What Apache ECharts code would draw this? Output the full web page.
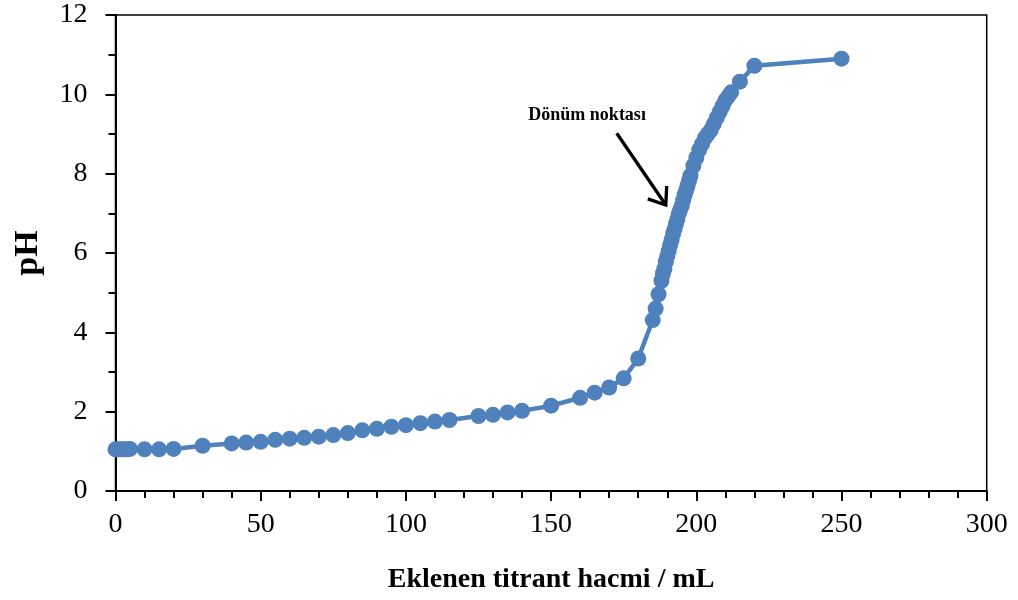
<!DOCTYPE html>
<html>
<head>
<meta charset="utf-8">
<script src="https://cdn.jsdelivr.net/npm/echarts@6/dist/echarts.min.js"></script>
<style>
  html, body { margin: 0; padding: 0; background: #fff; }
  #chart { width: 1018px; height: 600px; }
</style>
</head>
<body>
<div id="chart"></div>
<script>
// titrant hacmi (mL) ve pH
var volume = [0, 1, 2, 3, 4, 5, 10, 15, 20, 30, 40, 45, 50, 55, 60, 65, 70, 75, 80, 85,
  90, 95, 100, 105, 110, 115, 125, 130, 135, 140, 150, 160, 165, 170, 175, 180,
  185, 186, 187, 188, 188.5, 189, 189.5, 190, 190.5, 191, 191.5, 192, 192.5, 193, 193.5,
  194, 194.5, 195, 195.5, 196, 196.5, 197, 197.5, 198, 199, 200,
  201, 202, 203, 204, 205, 206, 207, 208, 209, 210, 211, 212, 215, 220, 250];
var ph = [1.05, 1.05, 1.05, 1.05, 1.05, 1.06, 1.05, 1.05, 1.06, 1.14, 1.2, 1.22, 1.24, 1.29, 1.32, 1.34, 1.37, 1.41, 1.46, 1.53,
  1.57, 1.62, 1.66, 1.71, 1.75, 1.79, 1.89, 1.92, 1.98, 2.02, 2.15, 2.35, 2.48, 2.61, 2.84, 3.34,
  4.31, 4.6, 4.96, 5.3, 5.48, 5.6, 5.78, 5.92, 6.05, 6.2, 6.33, 6.48, 6.6, 6.74, 6.86,
  7.0, 7.1, 7.2, 7.34, 7.47, 7.58, 7.7, 7.83, 7.95, 8.2, 8.4,
  8.6, 8.75, 8.9, 9.0, 9.1, 9.25, 9.4, 9.55, 9.7, 9.85, 9.95, 10.05, 10.32, 10.72, 10.9];

// annotation (data coordinates)
var noteText = "Dönüm noktası";
var notePos = [162.4, 9.48];
var arrowFrom = [172.6, 9.02];
var arrowTo = [189.5, 7.21];

var font = "'Liberation Serif', 'Times New Roman', serif";

var chart = echarts.init(document.getElementById("chart"));

var option = {
  animation: false,
  grid: {
    left: 115.5,
    right: 31.3,
    top: 15,
    bottom: 109,
    show: true,
    borderColor: "#000",
    borderWidth: 1.5,
    containLabel: false
  },
  xAxis: {
    type: "value",
    min: 0,
    max: 300,
    interval: 50,
    name: "Eklenen titrant hacmi / mL",
    nameLocation: "middle",
    nameGap: 75,
    nameTextStyle: { fontFamily: font, fontWeight: "bold", fontSize: 28, color: "#000" },
    axisLine: { show: true, onZero: false, lineStyle: { color: "#000", width: 2 } },
    axisTick: { show: true, length: 10, lineStyle: { color: "#000", width: 2 } },
    minorTick: { show: true, splitNumber: 5, length: 7, lineStyle: { color: "#000", width: 2 } },
    axisLabel: { fontFamily: font, fontSize: 28, color: "#000", margin: 20 },
    splitLine: { show: false }
  },
  yAxis: {
    type: "value",
    min: 0,
    max: 12,
    interval: 2,
    name: "pH",
    nameLocation: "middle",
    nameGap: 70,
    nameRotate: 90,
    nameTextStyle: { fontFamily: font, fontWeight: "bold", fontSize: 34, color: "#000" },
    axisLine: { show: true, onZero: false, lineStyle: { color: "#000", width: 2 } },
    axisTick: { show: true, length: 10, lineStyle: { color: "#000", width: 2 } },
    minorTick: { show: true, splitNumber: 2, length: 7, lineStyle: { color: "#000", width: 2 } },
    axisLabel: { fontFamily: font, fontSize: 28, color: "#000", margin: 28 },
    splitLine: { show: false }
  },
  series: [
    {
      type: "line",
      data: volume.map(function (v, i) { return [v, ph[i]]; }),
      symbol: "circle",
      symbolSize: 16,
      showSymbol: true,
      lineStyle: { color: "#4F81BD", width: 4.5 },
      itemStyle: { color: "#4F81BD" }
    }
  ]
};

chart.setOption(option);

// arrow + text placed from data coords
function drawNote() {
  var t = chart.convertToPixel({ gridIndex: 0 }, notePos);
  var a = chart.convertToPixel({ gridIndex: 0 }, arrowFrom);
  var b = chart.convertToPixel({ gridIndex: 0 }, arrowTo);
  var ang = Math.atan2(b[1] - a[1], b[0] - a[0]);
  var len = 19, spread = 37 * Math.PI / 180;
  var w1 = [b[0] - len * Math.cos(ang - spread), b[1] - len * Math.sin(ang - spread)];
  var w2 = [b[0] - len * Math.cos(ang + spread), b[1] - len * Math.sin(ang + spread)];
  chart.setOption({
    graphic: [
      {
        type: "text",
        x: t[0],
        y: t[1],
        style: {
          text: noteText,
          font: "bold 18px " + font,
          fill: "#000",
          align: "center",
          verticalAlign: "middle"
        }
      },
      {
        type: "polyline",
        shape: { points: [a, b] },
        style: { stroke: "#000", lineWidth: 3.3, fill: null }
      },
      {
        type: "polyline",
        shape: { points: [w1, b, w2] },
        style: { stroke: "#000", lineWidth: 3.3, fill: null, lineJoin: "miter" }
      }
    ]
  });
}
drawNote();
</script>
</body>
</html>
